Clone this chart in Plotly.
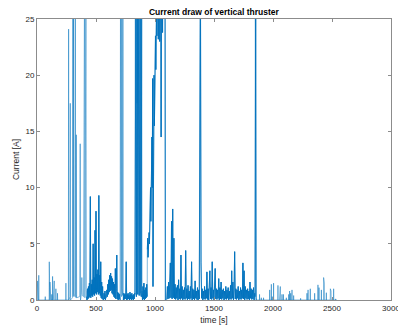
import plotly.graph_objects as go

# ---------------- data ----------------
# sparse early spikes (time s, current A); signal rests at 0 between them
early_t = [3, 8, 15, 70, 104, 110, 115, 125, 132, 140, 146, 160, 174, 245]
early_i = [1.7, 1.2, 2.2, 0.3, 3.4, 1.6, 1.4, 0.5, 2.1, 0.8, 1.7, 1.0, 0.6, 1.5]

# first burst region (explicit samples)
burst1_t = [266, 268, 270, 280, 282, 284, 300, 304, 307, 310, 313, 316, 319, 322, 325,
            328, 331, 333, 336, 362, 366, 369, 376, 380, 384, 394, 397, 400, 403, 406,
            409, 412, 415, 418]
burst1_i = [0, 24.1, 0, 0.3, 17.5, 0, 0.2, 30, 0.3, 30, 0.6, 0.4, 30, 0.3, 30,
            0.5, 0.2, 14.7, 0.2, 0.3, 13.9, 0, 0.5, 2.0, 0.4, 0.3, 30, 0.5, 30, 0.2,
            30, 0.8, 30, 1.0]

# uniformly sampled stretches: (start time, sample step, values)
noise1_t0, noise1_dt = 420, 4
noise1_i = [0.3, 0.0, 1.0, 0.1, 1.2, 0.2, 1.5, 0.3, 9.2, 0.2, 1.4, 0.4, 1.8, 0.3, 5.0,
            0.5, 2.0, 0.4, 6.2, 0.6, 7.9, 0.5, 2.3, 0.7, 2.7, 0.5, 9.3, 0.6, 2.2, 0.4,
            3.4, 0.2, 1.6, 0.1, 1.2, 0.0]

noise2_t0, noise2_dt = 564, 4
noise2_i = [0.0, 0.6, 0.1, 0.8, 0.0, 0.5, 0.2, 0.9, 0.3, 1.4, 0.5, 1.8, 0.7, 2.2, 0.8,
            2.4, 0.9, 2.1, 0.6, 1.9, 0.5, 1.6, 0.3, 1.4, 0.2, 2.8, 0.1, 1.0, 4.0, 0.1,
            0.7, 0.0, 0.6, 0.1, 0.5, 0.0]

burst2_t = [708, 711, 713, 716, 718, 721, 723, 726, 728, 730]
burst2_i = [30, 0.5, 30, 0.3, 30, 1.0, 30, 0.4, 30, 0.3]

noise3_t0, noise3_dt = 732, 4
noise3_i = [0.0, 0.6, 0.05, 0.5, 0.1, 0.7, 3.4, 0.0, 0.5, 0.05, 0.6, 0.1, 0.4, 0.0, 0.7,
            0.1, 0.5, 0.0, 0.6, 0.1, 0.4, 0.0, 0.5, 0.1, 0.6]

burst3_t0, burst3_dt = 830, 3
burst3_i = [0.5, 30, 1.0, 30, 0.3, 30, 17.5, 30, 0.5, 30, 2.0, 30, 0.4, 30, 1.2, 30,
            0.6, 30, 0.3, 30]

noise4_t0, noise4_dt = 890, 4
noise4_i = [0.8, 0.0, 1.2, 0.1, 1.5, 0.0, 0.9, 0.1, 1.1, 0.2, 1.4, 0.3]

ramp_t0, ramp_dt = 935, 3
ramp_i = [4.5, 5.5, 3.8, 5.2, 4.2, 6.0, 5.0, 7.5, 5.5, 10.0, 7.0, 12.0, 8.5, 14.5, 10.0,
          19.7, 1.2, 17.0, 13.0, 20.0, 15.5, 22.0, 18.0, 23.5, 20.5, 24.0, 26.0, 23.5,
          27.0, 24.0, 30, 23.2, 28, 24.5, 30, 23.0, 27, 23.5, 30, 14.5, 30, 23.0, 29,
          23.8, 30, 24.5, 28, 25.5, 30, 26, 30, 0]

quiet_t = [1095]
quiet_i = [0]

noise5_t0, noise5_dt = 1100, 5
noise5_i = [0.05, 1.2, 0.1, 1.6, 0.15, 1.3, 3.3, 0.2, 7.0, 0.1, 8.1, 0.2, 5.5, 0.1, 1.4,
            0.05, 1.1, 0.15, 1.3, 0.0, 1.8, 0.1, 1.0, 0.05, 4.0, 0.15, 1.2, 0.0, 0.9, 0.1,
            1.1, 0.05, 4.4, 0.15, 1.0, 0.0, 1.3, 0.1, 0.8, 0.05, 1.2, 0.15, 3.4, 0.0, 1.0,
            0.1, 0.9, 0.0, 1.7, 0.15, 0.8, 0.05, 1.1, 0.0, 0.9, 0.1, 30, 30, 3.3, 0.15,
            1.0, 0.0, 0.8, 0.1, 1.2, 0.05, 0.9, 0.15, 2.5, 0.05, 1.0, 0.0, 0.8, 2.6, 0.1,
            1.1, 0.05, 3.4, 0.15, 0.9, 0.0, 1.2, 2.8, 0.1, 1.0, 0.05, 0.9, 0.15, 1.9, 0.0,
            1.1, 0.1, 1.6, 0.05, 0.9, 0.15, 1.0, 0.0, 0.8, 0.1, 1.2, 0.05, 0.9, 0.15, 1.1,
            0.0, 0.8, 0.1, 1.3, 0.05, 2.6, 0.15, 1.6, 0.0, 0.9, 4.3, 0.1, 1.0, 0.05, 0.9,
            0.15, 1.2, 0.0, 0.8, 0.1, 1.1, 0.05, 0.9, 0.15, 3.3, 0.1, 2.6, 0.0, 1.2, 0.15,
            0.9, 0.05, 1.0, 0.1, 0.8, 0.0, 1.6, 0.15, 1.0, 0.05, 0.9, 0.1, 1.1, 0.0, 0.6]

burst4_t = [1848, 1850, 1852, 1854, 1856, 1858]
burst4_i = [0.3, 30, 0.4, 30, 0.2, 0]

tail_t = [1886, 1901, 1920, 1972, 1986, 1994, 2005, 2042, 2056, 2062, 2076, 2088, 2113,
          2133, 2141, 2150, 2161, 2175, 2234, 2288, 2297, 2316, 2353, 2381, 2390, 2410,
          2429, 2435, 2452, 2486, 2492, 2514, 2531]
tail_i = [0.5, 0.2, 0.2, 0.9, 1.4, 0.3, 1.5, 1.3, 1.1, 1.2, 0.5, 0.5, 0.2, 0.5, 0.8,
          0.6, 0.9, 0.4, 0.15, 0.6, 0.9, 1.0, 0.6, 1.35, 1.1, 0.9, 2.0, 1.5, 0.65, 1.0,
          0.8, 1.0, 0.1]
end_t = [2540]
end_i = [0]

x_ticks = [0, 500, 1000, 1500, 2000, 2500, 3000]
y_ticks = [0, 5, 10, 15, 20, 25]

# ---------------- assemble the time series ----------------
T, I = [0], [0]
DT, DI = [], []   # densely sampled stretches, stroked a little heavier


def add_explicit(ts, vs, dense=False):
    T.extend(ts)
    I.extend(vs)
    if dense:
        DT.extend(list(ts) + [None])
        DI.extend(list(vs) + [None])


def add_spikes(ts, vs):
    for t, v in zip(ts, vs):
        T.extend([t - 1, t, t + 1])
        I.extend([0, v, 0])


def add_uniform(t0, dt, vs, dense=True):
    ts = [t0 + k * dt for k in range(len(vs))]
    add_explicit(ts, vs, dense)


add_spikes(early_t, early_i)
add_explicit(burst1_t, burst1_i)
add_uniform(noise1_t0, noise1_dt, noise1_i)
add_uniform(noise2_t0, noise2_dt, noise2_i)
add_explicit(burst2_t, burst2_i)
add_uniform(noise3_t0, noise3_dt, noise3_i)
add_uniform(burst3_t0, burst3_dt, burst3_i)
add_uniform(noise4_t0, noise4_dt, noise4_i)
add_uniform(ramp_t0, ramp_dt, ramp_i)
add_explicit(quiet_t, quiet_i)
add_uniform(noise5_t0, noise5_dt, noise5_i)
add_explicit(burst4_t, burst4_i, dense=True)
add_spikes(tail_t, tail_i)
add_explicit(end_t, end_i)

FONT = "Liberation Sans, Arial, Helvetica, sans-serif"
AX = "#262626"
BLUE = "#0072BD"

fig = go.Figure()
fig.add_trace(go.Scatter(x=T, y=I, mode="lines", line=dict(color=BLUE, width=0.5),
                         hoverinfo="skip"))
fig.add_trace(go.Scatter(x=DT, y=DI, mode="lines", line=dict(color=BLUE, width=0.9),
                         connectgaps=False, hoverinfo="skip"))

axis_common = dict(showgrid=False, zeroline=False, showline=True, linecolor="#8c8c8c",
                   linewidth=1, mirror="ticks", ticks="inside", ticklen=3,
                   tickcolor="#8c8c8c", tickwidth=1, ticklabeloverflow="allow",
                   automargin=False,
                   tickfont=dict(family=FONT, size=8, color=AX))

fig.update_layout(
    width=398, height=326,
    margin=dict(l=37, r=7, t=19, b=26),
    paper_bgcolor="white", plot_bgcolor="white",
    showlegend=False,
    title=dict(text="<b>Current draw of vertical thruster</b>", x=0.5375, xanchor="center",
               y=1 - 12 / 326, yanchor="middle", yref="container",
               font=dict(family=FONT, size=8.5, color="black")),
    xaxis=dict(range=[0, 3000], tickvals=x_ticks, ticktext=[str(v) for v in x_ticks],
               title=dict(text="time [s]", standoff=5,
                          font=dict(family=FONT, size=8.5, color=AX)),
               **axis_common),
    yaxis=dict(range=[0, 25], tickvals=y_ticks, ticktext=[str(v) for v in y_ticks],
               title=dict(text="Current [A]", standoff=4,
                          font=dict(family=FONT, size=8.5, color=AX)),
               **axis_common),
)

fig.write_html("out.html")
